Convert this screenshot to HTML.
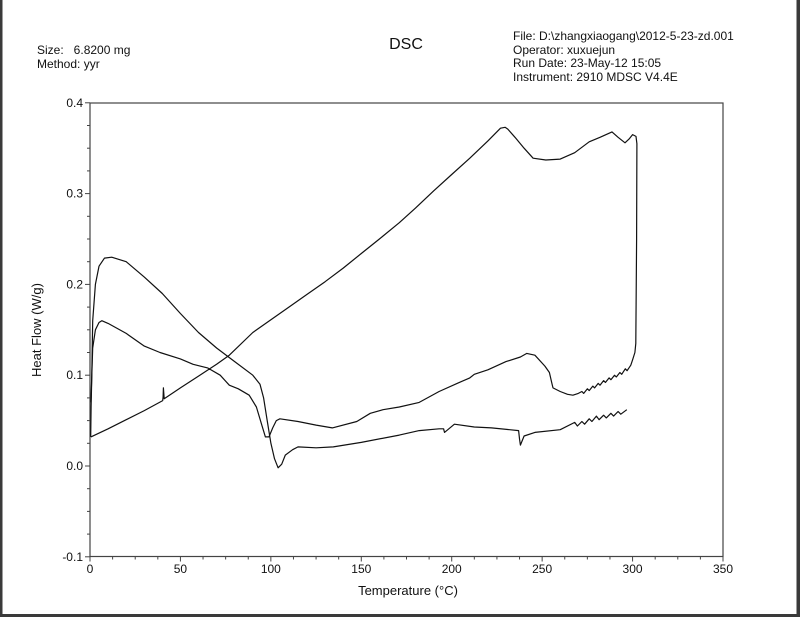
<!DOCTYPE html>
<html><head><meta charset="utf-8"><style>
html,body{margin:0;padding:0;background:#fff;}
body{width:800px;height:617px;overflow:hidden;position:relative;font-family:"Liberation Sans",sans-serif;}
svg{position:absolute;left:0;top:0;}
</style></head><body>
<svg id="chart" width="800" height="617" viewBox="0 0 800 617">
<rect x="0" y="0" width="800" height="617" fill="#fff"/>
<rect x="0" y="0" width="2.5" height="617" fill="#3a3a3a"/>
<rect x="796.5" y="0" width="3.5" height="617" fill="#3a3a3a"/>
<rect x="0" y="614" width="800" height="3" fill="#3a3a3a"/>
<g font-size="12" fill="#111">
<text x="37" y="54">Size:&#160;&#160; 6.8200 mg</text>
<text x="37" y="68">Method: yyr</text>
</g>
<text x="406" y="49" font-size="16" text-anchor="middle" fill="#111">DSC</text>
<g font-size="12" fill="#111">
<text x="513" y="40">File: D:\zhangxiaogang\2012-5-23-zd.001</text>
<text x="513" y="54">Operator: xuxuejun</text>
<text x="513" y="67">Run Date: 23-May-12 15:05</text>
<text x="513" y="81">Instrument: 2910 MDSC V4.4E</text>
</g>
<rect x="90" y="103" width="633" height="453.5" fill="none" stroke="#444" stroke-width="1.2"/>
<g id="axes"></g>
<g id="series"></g>
<text x="408" y="595" font-size="13" text-anchor="middle" fill="#111">Temperature (°C)</text>
<text transform="translate(41,330) rotate(-90)" font-size="13" text-anchor="middle" fill="#111">Heat Flow (W/g)</text>
</svg>
<script>
const xTicks=[0,50,100,150,200,250,300,350];
const yTicks=[-0.1,0.0,0.1,0.2,0.3,0.4];
const yTickLabels=["-0.1","0.0","0.1","0.2","0.3","0.4"];
const s1T=[0.5,1.5,3,5,6.5,10,20,30,38.7,50,57,65,72,77,82,88,92,95,97,99,101,103,105,115,125,134,147.5,155,162,171,182,193,203,210,212.5,220,230,238,241.5,246,251.5,254,255.5,256,260,264,267,270,272,273,275,276,278,279,281,282,284,285,287,288,290,291,293,294,296,297,299,300,301.3,301.8,302.2,302.4,301.9,300,298,295.8,292,288.6,282,276,268,260,252,245,240,235,231,229.5,227,220,210,200,190,180,171,160,150,140,130,120,110,100,90,77,70,60,50,41,40.6,40.4,40.2,30,20,10,0.5];
const s1V=[0.07,0.13,0.15,0.158,0.16,0.157,0.146,0.132,0.125,0.118,0.112,0.108,0.1,0.089,0.085,0.078,0.065,0.045,0.032,0.032,0.042,0.05,0.052,0.049,0.045,0.042,0.049,0.058,0.062,0.065,0.07,0.082,0.091,0.097,0.101,0.106,0.115,0.12,0.124,0.122,0.11,0.103,0.09,0.086,0.082,0.079,0.078,0.08,0.082,0.08,0.085,0.083,0.088,0.086,0.091,0.089,0.094,0.092,0.097,0.095,0.1,0.098,0.103,0.101,0.107,0.105,0.111,0.117,0.125,0.135,0.25,0.355,0.363,0.365,0.36,0.356,0.362,0.368,0.362,0.357,0.345,0.338,0.337,0.339,0.35,0.362,0.371,0.373,0.372,0.358,0.339,0.321,0.303,0.284,0.268,0.25,0.234,0.218,0.203,0.189,0.175,0.161,0.147,0.122,0.112,0.099,0.086,0.074,0.086,0.076,0.072,0.061,0.051,0.041,0.032];
const s2T=[0.4,0.6,1,1.5,3,5,8,12,20,30,40,50,60,70,80,90,94,96,98,100,102,104,106,108,112,115,125,134.5,150,171,182,193,195.5,196,201.5,212.5,222,232,237,237.5,238,240,246,260,268,269.5,272,273.5,276,277.5,280,281.5,284,285.5,288,289.5,292,293.5,296.8];
const s2V=[0.032,0.065,0.1,0.16,0.2,0.22,0.229,0.23,0.225,0.208,0.19,0.168,0.147,0.13,0.115,0.1,0.09,0.075,0.05,0.025,0.008,-0.002,0.002,0.012,0.018,0.021,0.02,0.021,0.026,0.034,0.039,0.041,0.041,0.037,0.046,0.043,0.042,0.04,0.039,0.03,0.023,0.033,0.037,0.04,0.048,0.044,0.049,0.046,0.052,0.049,0.055,0.051,0.056,0.053,0.058,0.055,0.06,0.057,0.062];
function X(t){return 90+t*633/350;}
function Y(v){return 466-v*908;}
const NS="http://www.w3.org/2000/svg";
const axes=document.getElementById('axes');
const ser=document.getElementById('series');
function mk(tag,attrs,parent){const e=document.createElementNS(NS,tag);for(const k in attrs)e.setAttribute(k,attrs[k]);parent.appendChild(e);return e;}
for(let i=0;i<=28;i++){
  const t=i*12.5;const major=i%4===0;
  const l=mk('line',{x1:X(t),x2:X(t),y1:556.5,y2:556.5+(major?5:3),stroke:'#444','stroke-width':1},axes);
  
  
}
xTicks.forEach(t=>{
  const tx=mk('text',{x:X(t),y:573,'font-size':12,'text-anchor':'middle',fill:'#111'},axes);
  tx.textContent=String(t);
  
  
});
for(let i=0;i<=20;i++){
  const v=-0.1+i*0.025;const major=i%4===0;
  const l=mk('line',{x1:90-(major?5:3),x2:90,y1:Y(v),y2:Y(v),stroke:'#444','stroke-width':1},axes);
  
  
}
yTicks.forEach((v,i)=>{
  const tx=mk('text',{x:83,y:Y(v)+4,'font-size':12,'text-anchor':'end',fill:'#111'},axes);
  tx.textContent=yTickLabels[i];
  
  
});
function path(T,V){return T.map((t,i)=>(i?'L':'M')+X(t).toFixed(1)+','+Y(V[i]).toFixed(1)).join('');}
const p1=mk('path',{d:path(s1T,s1V),fill:'none',stroke:'#111','stroke-width':1.2,'stroke-linejoin':'round'},ser);


const p2=mk('path',{d:path(s2T,s2V),fill:'none',stroke:'#111','stroke-width':1.2,'stroke-linejoin':'round'},ser);


</script>
</body></html>
